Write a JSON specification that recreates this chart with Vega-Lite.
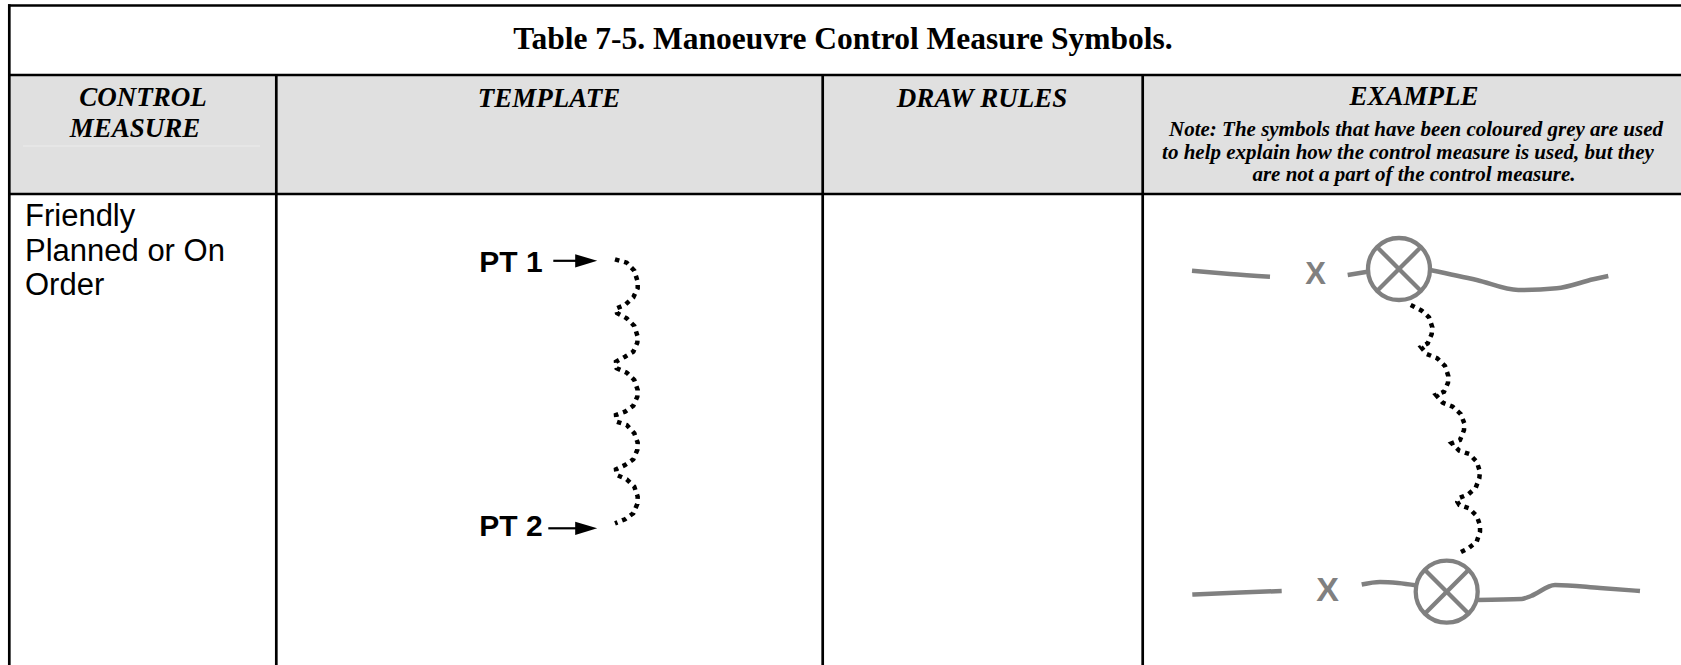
{
  "$schema": "https://vega.github.io/schema/vega-lite/v6.json",
  "width": 1681,
  "height": 665,
  "padding": 0,
  "autosize": {"type": "none"},
  "background": "white",
  "config": {"view": {"stroke": null}},
  "datasets": {
    "cells": [{"x": 9, "x2": 1681, "y": 75, "y2": 194}],
    "faint": [{"x": 23, "x2": 260, "y": 146, "y2": 146}],
    "grid": [
      {"x": 8, "x2": 1681, "y": 5.5, "y2": 5.5},
      {"x": 8, "x2": 1681, "y": 75, "y2": 75},
      {"x": 8, "x2": 1681, "y": 194, "y2": 194},
      {"x": 9.3, "x2": 9.3, "y": 4.2, "y2": 665},
      {"x": 276.3, "x2": 276.3, "y": 75, "y2": 665},
      {"x": 822.7, "x2": 822.7, "y": 75, "y2": 665},
      {"x": 1142.7, "x2": 1142.7, "y": 75, "y2": 665}
    ],
    "texts": [
      {"g": "title", "t": "Table 7-5. Manoeuvre Control Measure Symbols.", "x": 843, "y": 49},
      {"g": "head", "t": "CONTROL", "x": 143, "y": 106},
      {"g": "head", "t": "MEASURE", "x": 135, "y": 136.7},
      {"g": "head", "t": "TEMPLATE", "x": 549, "y": 106.5},
      {"g": "head", "t": "DRAW RULES", "x": 982, "y": 106.5},
      {"g": "head", "t": "EXAMPLE", "x": 1414, "y": 105},
      {"g": "note", "t": "Note: The symbols that have been coloured grey are used", "x": 1416, "y": 136},
      {"g": "note", "t": "to help explain how the control measure is used, but they", "x": 1408, "y": 159},
      {"g": "note", "t": "are not a part of the control measure.", "x": 1414, "y": 181},
      {"g": "body", "t": "Friendly", "x": 25, "y": 226},
      {"g": "body", "t": "Planned or On", "x": 25, "y": 260.5},
      {"g": "body", "t": "Order", "x": 25, "y": 295},
      {"g": "pt", "t": "PT 1", "x": 479.3, "y": 271.7},
      {"g": "pt", "t": "PT 2", "x": 479.3, "y": 536},
      {"g": "x1", "t": "X", "x": 1315.7, "y": 284},
      {"g": "x2", "t": "X", "x": 1327.7, "y": 601}
    ],
    "arrows": [
      {"x": 553.3, "x2": 578, "y": 260.8, "y2": 260.8},
      {"x": 548.3, "x2": 578, "y": 528.3, "y2": 528.3}
    ],
    "heads": [
      {"x": 586.2, "y": 260.8},
      {"x": 586.2, "y": 528.3}
    ],
    "gray": [
      {"seg": "a", "i": 0, "x": 1192, "y": 270.7},
      {"seg": "a", "i": 1, "x": 1230, "y": 274},
      {"seg": "a", "i": 2, "x": 1270, "y": 276.7},
      {"seg": "b", "i": 0, "x": 1347.7, "y": 275},
      {"seg": "b", "i": 1, "x": 1369, "y": 271.5},
      {"seg": "c", "i": 0, "x": 1430, "y": 270},
      {"seg": "c", "i": 1, "x": 1476.7, "y": 280},
      {"seg": "c", "i": 2, "x": 1518.3, "y": 290},
      {"seg": "c", "i": 3, "x": 1556.7, "y": 288.3},
      {"seg": "c", "i": 4, "x": 1593.3, "y": 279.3},
      {"seg": "c", "i": 5, "x": 1608.3, "y": 276},
      {"seg": "d", "i": 0, "x": 1192.3, "y": 594.5},
      {"seg": "d", "i": 1, "x": 1240, "y": 592.5},
      {"seg": "d", "i": 2, "x": 1281.7, "y": 591},
      {"seg": "e", "i": 0, "x": 1361.7, "y": 584.5},
      {"seg": "e", "i": 1, "x": 1380, "y": 582},
      {"seg": "e", "i": 2, "x": 1398, "y": 583},
      {"seg": "e", "i": 3, "x": 1417, "y": 585.5},
      {"seg": "f", "i": 0, "x": 1477, "y": 600},
      {"seg": "f", "i": 1, "x": 1521.7, "y": 599},
      {"seg": "f", "i": 2, "x": 1531, "y": 596},
      {"seg": "f", "i": 3, "x": 1555, "y": 585},
      {"seg": "f", "i": 4, "x": 1600, "y": 588},
      {"seg": "f", "i": 5, "x": 1640, "y": 591}
    ],
    "circles": [
      {"x": 1399, "y": 269},
      {"x": 1446.7, "y": 591.7}
    ],
    "crosses": [
      {"x": 1377, "y": 247, "x2": 1421, "y2": 291},
      {"x": 1421, "y": 247, "x2": 1377, "y2": 291},
      {"x": 1424.7, "y": 569.7, "x2": 1468.7, "y2": 613.7},
      {"x": 1468.7, "y": 569.7, "x2": 1424.7, "y2": 613.7}
    ],
    "waves": [
      {"w": "t", "i": 0, "x": 615, "y": 259.3},
      {"w": "t", "i": 1, "x": 626.7, "y": 262.7},
      {"w": "t", "i": 2, "x": 634.3, "y": 270.7},
      {"w": "t", "i": 3, "x": 637.7, "y": 281.7},
      {"w": "t", "i": 4, "x": 637.7, "y": 288.3},
      {"w": "t", "i": 5, "x": 633.3, "y": 297.3},
      {"w": "t", "i": 6, "x": 625, "y": 305},
      {"w": "t", "i": 7, "x": 616, "y": 308.5},
      {"w": "t", "i": 8, "x": 617, "y": 313},
      {"w": "t", "i": 9, "x": 626.7, "y": 318.3},
      {"w": "t", "i": 10, "x": 634.3, "y": 326},
      {"w": "t", "i": 11, "x": 637.7, "y": 336.7},
      {"w": "t", "i": 12, "x": 637.3, "y": 342.7},
      {"w": "t", "i": 13, "x": 633.3, "y": 351.7},
      {"w": "t", "i": 14, "x": 625, "y": 356.7},
      {"w": "t", "i": 15, "x": 616, "y": 361.7},
      {"w": "t", "i": 16, "x": 616.7, "y": 368.3},
      {"w": "t", "i": 17, "x": 626.7, "y": 372.7},
      {"w": "t", "i": 18, "x": 634.3, "y": 380},
      {"w": "t", "i": 19, "x": 637.7, "y": 390},
      {"w": "t", "i": 20, "x": 637.3, "y": 396.7},
      {"w": "t", "i": 21, "x": 633.3, "y": 405.7},
      {"w": "t", "i": 22, "x": 625, "y": 411.7},
      {"w": "t", "i": 23, "x": 616, "y": 415},
      {"w": "t", "i": 24, "x": 616.7, "y": 421.7},
      {"w": "t", "i": 25, "x": 626.7, "y": 425},
      {"w": "t", "i": 26, "x": 634.3, "y": 433.3},
      {"w": "t", "i": 27, "x": 637.7, "y": 442.7},
      {"w": "t", "i": 28, "x": 637.3, "y": 450},
      {"w": "t", "i": 29, "x": 633.3, "y": 459.3},
      {"w": "t", "i": 30, "x": 625, "y": 465},
      {"w": "t", "i": 31, "x": 616, "y": 469.3},
      {"w": "t", "i": 32, "x": 616.7, "y": 475},
      {"w": "t", "i": 33, "x": 626.7, "y": 479.3},
      {"w": "t", "i": 34, "x": 634.3, "y": 486.7},
      {"w": "t", "i": 35, "x": 637.7, "y": 496.7},
      {"w": "t", "i": 36, "x": 637.3, "y": 504},
      {"w": "t", "i": 37, "x": 633.3, "y": 513.3},
      {"w": "t", "i": 38, "x": 625, "y": 519.3},
      {"w": "t", "i": 39, "x": 615, "y": 523.3},
      {"w": "e", "i": 0, "x": 1410.7, "y": 305},
      {"w": "e", "i": 1, "x": 1421.7, "y": 310.7},
      {"w": "e", "i": 2, "x": 1429, "y": 317.3},
      {"w": "e", "i": 3, "x": 1432.3, "y": 327.3},
      {"w": "e", "i": 4, "x": 1431.7, "y": 334},
      {"w": "e", "i": 5, "x": 1427.7, "y": 343.3},
      {"w": "e", "i": 6, "x": 1421, "y": 347},
      {"w": "e", "i": 7, "x": 1426.7, "y": 354},
      {"w": "e", "i": 8, "x": 1437.3, "y": 358.3},
      {"w": "e", "i": 9, "x": 1445, "y": 366},
      {"w": "e", "i": 10, "x": 1448.3, "y": 376},
      {"w": "e", "i": 11, "x": 1448, "y": 382.7},
      {"w": "e", "i": 12, "x": 1444, "y": 391.7},
      {"w": "e", "i": 13, "x": 1436, "y": 395},
      {"w": "e", "i": 14, "x": 1442.7, "y": 402.7},
      {"w": "e", "i": 15, "x": 1452.7, "y": 406.7},
      {"w": "e", "i": 16, "x": 1460.7, "y": 414},
      {"w": "e", "i": 17, "x": 1464.3, "y": 423.3},
      {"w": "e", "i": 18, "x": 1464, "y": 430},
      {"w": "e", "i": 19, "x": 1460, "y": 440},
      {"w": "e", "i": 20, "x": 1451.7, "y": 443.3},
      {"w": "e", "i": 21, "x": 1459.3, "y": 450.7},
      {"w": "e", "i": 22, "x": 1469.3, "y": 454},
      {"w": "e", "i": 23, "x": 1476.7, "y": 461.7},
      {"w": "e", "i": 24, "x": 1480, "y": 471.7},
      {"w": "e", "i": 25, "x": 1479.3, "y": 478.3},
      {"w": "e", "i": 26, "x": 1475.7, "y": 487.7},
      {"w": "e", "i": 27, "x": 1468.3, "y": 494.3},
      {"w": "e", "i": 28, "x": 1458.3, "y": 498.3},
      {"w": "e", "i": 29, "x": 1457.3, "y": 501.7},
      {"w": "e", "i": 30, "x": 1459.3, "y": 505},
      {"w": "e", "i": 31, "x": 1469, "y": 508.3},
      {"w": "e", "i": 32, "x": 1476.7, "y": 516},
      {"w": "e", "i": 33, "x": 1480, "y": 525},
      {"w": "e", "i": 34, "x": 1480, "y": 531.7},
      {"w": "e", "i": 35, "x": 1476.7, "y": 541.7},
      {"w": "e", "i": 36, "x": 1468.3, "y": 548.3},
      {"w": "e", "i": 37, "x": 1458.3, "y": 553.3}
    ]
  },
  "layer": [
    {
      "data": {"name": "cells"},
      "mark": {"type": "rect", "color": "#e0e0e0", "opacity": 1},
      "encoding": {
        "x": {"field": "x", "type": "quantitative", "scale": {"domain": [0, 1681], "nice": false, "zero": false}, "axis": null},
        "x2": {"field": "x2"},
        "y": {"field": "y", "type": "quantitative", "scale": {"domain": [0, 665], "nice": false, "zero": false, "reverse": true}, "axis": null},
        "y2": {"field": "y2"}
      }
    },
    {
      "data": {"name": "faint"},
      "mark": {"type": "rule", "color": "#ececec", "strokeWidth": 1},
      "encoding": {
        "x": {"field": "x", "type": "quantitative", "scale": {"domain": [0, 1681], "nice": false, "zero": false}, "axis": null},
        "x2": {"field": "x2"},
        "y": {"field": "y", "type": "quantitative", "scale": {"domain": [0, 665], "nice": false, "zero": false, "reverse": true}, "axis": null},
        "y2": {"field": "y2"}
      }
    },
    {
      "data": {"name": "grid"},
      "mark": {"type": "rule", "color": "#000000", "strokeWidth": 2.7},
      "encoding": {
        "x": {"field": "x", "type": "quantitative", "scale": {"domain": [0, 1681], "nice": false, "zero": false}, "axis": null},
        "x2": {"field": "x2"},
        "y": {"field": "y", "type": "quantitative", "scale": {"domain": [0, 665], "nice": false, "zero": false, "reverse": true}, "axis": null},
        "y2": {"field": "y2"}
      }
    },
    {
      "data": {"name": "texts"},
      "transform": [{"filter": "datum.g == 'title'"}],
      "mark": {"type": "text", "font": "Liberation Serif", "fontWeight": "bold", "fontSize": 31.5, "align": "center", "baseline": "alphabetic", "color": "#000000"},
      "encoding": {
        "x": {"field": "x", "type": "quantitative", "scale": {"domain": [0, 1681], "nice": false, "zero": false}, "axis": null},
        "y": {"field": "y", "type": "quantitative", "scale": {"domain": [0, 665], "nice": false, "zero": false, "reverse": true}, "axis": null},
        "text": {"field": "t"}
      }
    },
    {
      "data": {"name": "texts"},
      "transform": [{"filter": "datum.g == 'head'"}],
      "mark": {"type": "text", "font": "Liberation Serif", "fontWeight": "bold", "fontStyle": "italic", "fontSize": 27, "align": "center", "baseline": "alphabetic", "color": "#000000"},
      "encoding": {
        "x": {"field": "x", "type": "quantitative", "scale": {"domain": [0, 1681], "nice": false, "zero": false}, "axis": null},
        "y": {"field": "y", "type": "quantitative", "scale": {"domain": [0, 665], "nice": false, "zero": false, "reverse": true}, "axis": null},
        "text": {"field": "t"}
      }
    },
    {
      "data": {"name": "texts"},
      "transform": [{"filter": "datum.g == 'note'"}],
      "mark": {"type": "text", "font": "Liberation Serif", "fontWeight": "bold", "fontStyle": "italic", "fontSize": 21, "align": "center", "baseline": "alphabetic", "color": "#000000"},
      "encoding": {
        "x": {"field": "x", "type": "quantitative", "scale": {"domain": [0, 1681], "nice": false, "zero": false}, "axis": null},
        "y": {"field": "y", "type": "quantitative", "scale": {"domain": [0, 665], "nice": false, "zero": false, "reverse": true}, "axis": null},
        "text": {"field": "t"}
      }
    },
    {
      "data": {"name": "texts"},
      "transform": [{"filter": "datum.g == 'body'"}],
      "mark": {"type": "text", "font": "Liberation Sans", "fontSize": 31, "align": "left", "baseline": "alphabetic", "color": "#000000"},
      "encoding": {
        "x": {"field": "x", "type": "quantitative", "scale": {"domain": [0, 1681], "nice": false, "zero": false}, "axis": null},
        "y": {"field": "y", "type": "quantitative", "scale": {"domain": [0, 665], "nice": false, "zero": false, "reverse": true}, "axis": null},
        "text": {"field": "t"}
      }
    },
    {
      "data": {"name": "texts"},
      "transform": [{"filter": "datum.g == 'pt'"}],
      "mark": {"type": "text", "font": "Liberation Sans", "fontWeight": "bold", "fontSize": 30, "align": "left", "baseline": "alphabetic", "color": "#000000"},
      "encoding": {
        "x": {"field": "x", "type": "quantitative", "scale": {"domain": [0, 1681], "nice": false, "zero": false}, "axis": null},
        "y": {"field": "y", "type": "quantitative", "scale": {"domain": [0, 665], "nice": false, "zero": false, "reverse": true}, "axis": null},
        "text": {"field": "t"}
      }
    },
    {
      "data": {"name": "texts"},
      "transform": [{"filter": "datum.g == 'x1'"}],
      "mark": {"type": "text", "font": "Liberation Sans", "fontWeight": "bold", "fontSize": 31, "align": "center", "baseline": "alphabetic", "color": "#808080"},
      "encoding": {
        "x": {"field": "x", "type": "quantitative", "scale": {"domain": [0, 1681], "nice": false, "zero": false}, "axis": null},
        "y": {"field": "y", "type": "quantitative", "scale": {"domain": [0, 665], "nice": false, "zero": false, "reverse": true}, "axis": null},
        "text": {"field": "t"}
      }
    },
    {
      "data": {"name": "texts"},
      "transform": [{"filter": "datum.g == 'x2'"}],
      "mark": {"type": "text", "font": "Liberation Sans", "fontWeight": "bold", "fontSize": 34, "align": "center", "baseline": "alphabetic", "color": "#808080"},
      "encoding": {
        "x": {"field": "x", "type": "quantitative", "scale": {"domain": [0, 1681], "nice": false, "zero": false}, "axis": null},
        "y": {"field": "y", "type": "quantitative", "scale": {"domain": [0, 665], "nice": false, "zero": false, "reverse": true}, "axis": null},
        "text": {"field": "t"}
      }
    },
    {
      "data": {"name": "arrows"},
      "mark": {"type": "rule", "color": "#000000", "strokeWidth": 2.2},
      "encoding": {
        "x": {"field": "x", "type": "quantitative", "scale": {"domain": [0, 1681], "nice": false, "zero": false}, "axis": null},
        "x2": {"field": "x2"},
        "y": {"field": "y", "type": "quantitative", "scale": {"domain": [0, 665], "nice": false, "zero": false, "reverse": true}, "axis": null},
        "y2": {"field": "y2"}
      }
    },
    {
      "data": {"name": "heads"},
      "mark": {"type": "point", "shape": "M-1,-0.6L1,0L-1,0.6Z", "filled": true, "color": "#000000", "size": 484, "opacity": 1},
      "encoding": {
        "x": {"field": "x", "type": "quantitative", "scale": {"domain": [0, 1681], "nice": false, "zero": false}, "axis": null},
        "y": {"field": "y", "type": "quantitative", "scale": {"domain": [0, 665], "nice": false, "zero": false, "reverse": true}, "axis": null}
      }
    },
    {
      "data": {"name": "gray"},
      "mark": {"type": "line", "color": "#808080", "strokeWidth": 4.5, "strokeCap": "butt", "strokeJoin": "round", "interpolate": "monotone"},
      "encoding": {
        "x": {"field": "x", "type": "quantitative", "scale": {"domain": [0, 1681], "nice": false, "zero": false}, "axis": null},
        "y": {"field": "y", "type": "quantitative", "scale": {"domain": [0, 665], "nice": false, "zero": false, "reverse": true}, "axis": null},
        "detail": {"field": "seg", "type": "nominal"},
        "order": {"field": "i", "type": "quantitative"}
      }
    },
    {
      "data": {"name": "circles"},
      "mark": {"type": "point", "shape": "circle", "filled": false, "stroke": "#808080", "strokeWidth": 4.3, "size": 3844, "opacity": 1},
      "encoding": {
        "x": {"field": "x", "type": "quantitative", "scale": {"domain": [0, 1681], "nice": false, "zero": false}, "axis": null},
        "y": {"field": "y", "type": "quantitative", "scale": {"domain": [0, 665], "nice": false, "zero": false, "reverse": true}, "axis": null}
      }
    },
    {
      "data": {"name": "crosses"},
      "mark": {"type": "rule", "color": "#808080", "strokeWidth": 4.3},
      "encoding": {
        "x": {"field": "x", "type": "quantitative", "scale": {"domain": [0, 1681], "nice": false, "zero": false}, "axis": null},
        "x2": {"field": "x2"},
        "y": {"field": "y", "type": "quantitative", "scale": {"domain": [0, 665], "nice": false, "zero": false, "reverse": true}, "axis": null},
        "y2": {"field": "y2"}
      }
    },
    {
      "data": {"name": "waves"},
      "mark": {"type": "line", "color": "#000000", "strokeWidth": 4.5, "strokeDash": [4.5, 5], "strokeCap": "butt", "interpolate": "linear"},
      "encoding": {
        "x": {"field": "x", "type": "quantitative", "scale": {"domain": [0, 1681], "nice": false, "zero": false}, "axis": null},
        "y": {"field": "y", "type": "quantitative", "scale": {"domain": [0, 665], "nice": false, "zero": false, "reverse": true}, "axis": null},
        "detail": {"field": "w", "type": "nominal"},
        "order": {"field": "i", "type": "quantitative"}
      }
    }
  ]
}
